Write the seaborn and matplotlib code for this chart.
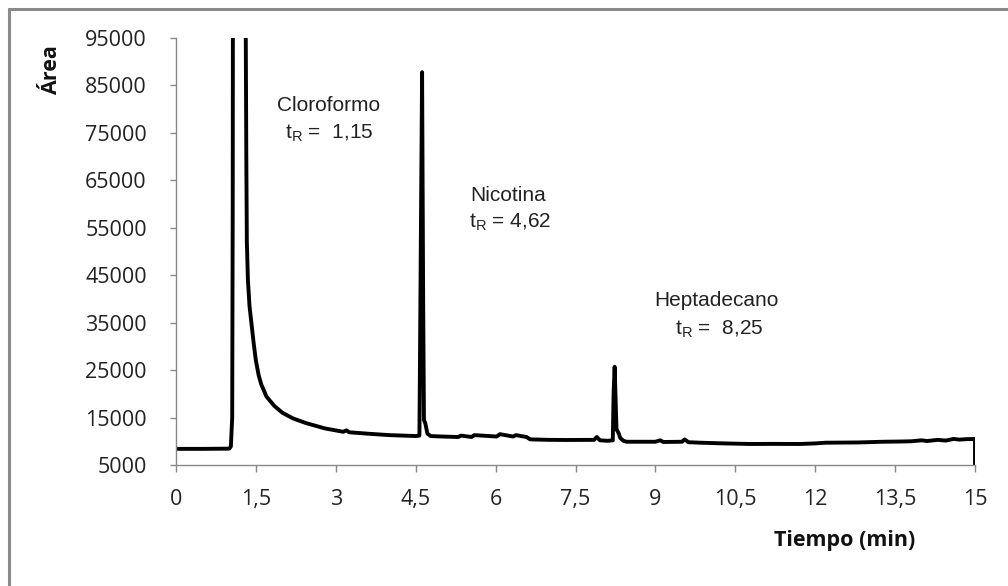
import numpy as np
import pandas as pd
import matplotlib
matplotlib.use("Agg")
import matplotlib.pyplot as plt
from matplotlib.lines import Line2D
import seaborn as sns

# ---- data ----
tiempo = [0.00, 0.50, 1.00, 1.03, 1.055, 1.065, 1.07, 1.20, 1.30, 1.31, 1.32, 1.33,
          1.35, 1.38, 1.42, 1.46, 1.50, 1.55, 1.60, 1.70, 1.85, 2.00, 2.20, 2.45, 2.80, 3.14,
          3.20, 3.25, 3.60, 4.00, 4.50, 4.57, 4.595, 4.62, 4.64, 4.655, 4.68, 4.72,
          4.78, 5.00, 5.30, 5.35, 5.55, 5.60, 6.02, 6.08, 6.33, 6.38, 6.58, 6.65,
          7.00, 7.33, 7.85, 7.90, 7.96, 8.10, 8.20, 8.215, 8.235, 8.255, 8.27, 8.31, 8.34,
          8.40, 8.46, 9.00, 9.09, 9.15, 9.50, 9.55, 9.62, 9.84, 10.30, 10.78, 11.20,
          11.71, 12.00, 12.20, 12.80, 13.27, 13.60, 13.80, 14.00, 14.10, 14.30, 14.45,
          14.60, 14.70, 14.85, 15.00, 15.00]
area = [8400, 8400, 8450, 8900, 15000, 60000, 120000, 300000, 120000, 95000, 70000, 52000,
        44000, 38500, 34500, 30500, 27000, 24000, 22000, 19400, 17400, 16000, 14800, 13800, 12700, 12000,
        12300, 11900, 11600, 11300, 11100, 11200, 50000, 87800, 40000, 14500, 13800, 11600,
        11100, 11000, 10900, 11200, 10900, 11300, 11000, 11500, 11000, 11300, 10900, 10400,
        10300, 10270, 10300, 10900, 10200, 10100, 10200, 20000, 25700, 18000, 12500, 11700, 10700,
        10100, 9900, 9900, 10200, 9850, 9900, 10400, 9800, 9700, 9550, 9430, 9450,
        9430, 9550, 9700, 9750, 9900, 9950, 10000, 10200, 10050, 10300, 10150,
        10500, 10350, 10450, 10500, 5000]

ytick_vals = list(range(5000, 95001, 10000))
xtick_vals = [0, 1.5, 3, 4.5, 6, 7.5, 9, 10.5, 12, 13.5, 15]
xtick_labels = ["0", "1,5", "3", "4,5", "6", "7,5", "9", "10,5", "12", "13,5", "15"]

picos = ["Cloroformo", "Nicotina", "Heptadecano"]
tr_labels = ["t$_\\mathregular{R}$ =  1,15", "t$_\\mathregular{R}$ = 4,62", "t$_\\mathregular{R}$ =  8,25"]

df = pd.DataFrame({"Tiempo": tiempo, "Area": area})

sns.set_style("ticks")
plt.rcParams["font.family"] = ["Open Sans", "DejaVu Sans"]

fig = plt.figure(figsize=(10.08, 5.86), dpi=100)
ax = fig.add_axes([176/1008, 1-465/586, 799/1008, 427/586])

sns.lineplot(data=df, x="Tiempo", y="Area", ax=ax, color="black", linewidth=2.8,
             sort=False, estimator=None)

ax.set_xlim(0, 15)
ax.set_ylim(5000, 95000)
ax.set_xticks(xtick_vals)
ax.set_xticklabels(xtick_labels)
ax.set_yticks(ytick_vals)
ax.set_yticklabels([str(v) for v in ytick_vals])

for s in ["top", "right"]:
    ax.spines[s].set_visible(False)
for s in ["left", "bottom"]:
    ax.spines[s].set_color("#888888")
    ax.spines[s].set_linewidth(1.0)

ax.tick_params(axis="both", colors="#888888", labelcolor="#222222", labelsize=15.5, width=1.0)
ax.tick_params(axis="y", length=4, pad=17)
ax.tick_params(axis="x", length=5, pad=12)

ax.set_xlabel("Tiempo (min)", fontsize=15.5, fontweight="bold", color="#111111")
ax.xaxis.set_label_coords(0.837, -0.152)
ax.set_ylabel("Área", fontsize=15.5, fontweight="bold", color="#111111")
ax.yaxis.set_label_coords(-0.142, 0.925)

ann_font = ["Liberation Sans", "DejaVu Sans"]
ann_kw = dict(fontsize=15, color="#222222", family=ann_font, va="center")
ax.text(2.87, 80700, picos[0], ha="center", **ann_kw)
ax.text(2.87, 75000, tr_labels[0], ha="center", **ann_kw)
ax.text(5.53, 61700, picos[1], ha="left", **ann_kw)
ax.text(5.50, 56200, tr_labels[1], ha="left", **ann_kw)
ax.text(10.15, 39600, picos[2], ha="center", **ann_kw)
ax.text(10.20, 33600, tr_labels[2], ha="center", **ann_kw)

# chart-area border (left and top edges visible)
fig.add_artist(Line2D([8.5/1008, 8.5/1008], [0, 1-8.5/586], transform=fig.transFigure,
                      color="#8a8a8a", linewidth=2.2))
fig.add_artist(Line2D([8.5/1008, 1], [1-8.5/586, 1-8.5/586], transform=fig.transFigure,
                      color="#8a8a8a", linewidth=2.2))

fig.savefig("out.png", dpi=100)
